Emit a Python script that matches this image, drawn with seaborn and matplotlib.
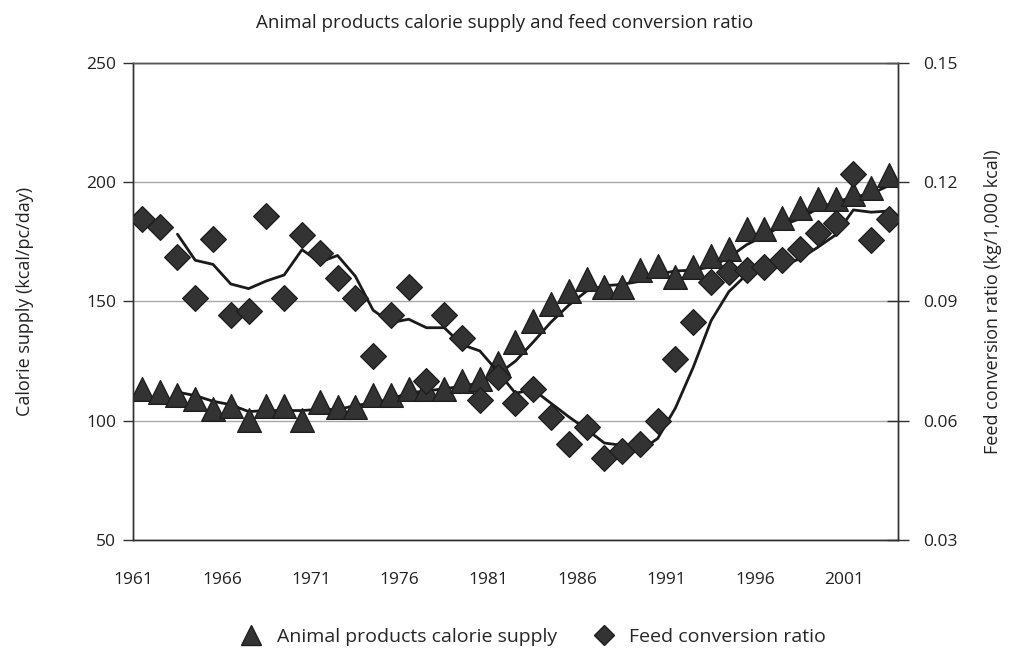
import numpy as np
import pandas as pd
import matplotlib
matplotlib.use('Agg')
import matplotlib.pyplot as plt
from matplotlib.lines import Line2D
import seaborn as sns

years = list(range(1961, 2004))

# animal products calorie supply, kcal/pc/day (left axis)
calorie_supply = [113.4, 112.0, 110.6, 109.0, 104.9, 106.2, 100.4, 106.2, 106.2, 100.4,
                  107.8, 105.7, 105.7, 110.9, 110.7, 113.3, 113.5, 113.4, 116.5, 117.7,
                  124.0, 133.2, 141.7, 149.1, 154.5, 159.4, 156.0, 156.0, 163.4, 164.8,
                  160.2, 164.4, 169.0, 172.0, 180.4, 180.4, 184.8, 189.0, 193.1, 193.1,
                  195.0, 197.5, 203.2]

# feed conversion ratio, kg/1,000 kcal (right axis)
feed_ratio = [0.1107, 0.1088, 0.1013, 0.0910, 0.1057, 0.0865, 0.0875, 0.1115, 0.0910, 0.1066,
              0.1021, 0.0960, 0.0910, 0.0764, 0.0866, 0.0936, 0.0700, 0.0866, 0.0808, 0.0653,
              0.0711, 0.0644, 0.0679, 0.0609, 0.0542, 0.0584, 0.0506, 0.0524, 0.0542, 0.0600,
              0.0755, 0.0849, 0.0950, 0.0975, 0.0978, 0.0986, 0.1005, 0.1032, 0.1072, 0.1098,
              0.1221, 0.1055, 0.1107]

tick_years = [1961, 1966, 1971, 1976, 1981, 1986, 1991, 1996, 2001]
series_names = ['Animal products calorie supply', 'Feed conversion ratio']

df = pd.DataFrame({'year': years, 'calorie': calorie_supply, 'fcr': feed_ratio})
# 3-period trailing moving averages (trendlines)
df['calorie_ma'] = df['calorie'].rolling(3).mean()
df['fcr_ma'] = df['fcr'].rolling(3).mean()

sns.set_style('white')
plt.rcParams['font.family'] = ['Open Sans', 'DejaVu Sans']

fill = '#333333'
edge = '#1e1e1e'
txt = '#222222'

fig = plt.figure(figsize=(10.09, 6.48), dpi=100)
ax = fig.add_axes([0.1318, 0.1667, 0.758, 0.7361])
ax2 = ax.twinx()

sns.lineplot(data=df, x='year', y='calorie_ma', ax=ax, color='#1a1a1a', lw=2.0, zorder=3)
sns.scatterplot(data=df, x='year', y='calorie', ax=ax, marker='^', s=290, color=fill,
                edgecolor=edge, linewidth=1.0, zorder=4, legend=False)
sns.lineplot(data=df, x='year', y='fcr_ma', ax=ax2, color='#1a1a1a', lw=2.0, zorder=3)
sns.scatterplot(data=df, x='year', y='fcr', ax=ax2, marker='D', s=170, color=fill,
                edgecolor=edge, linewidth=1.0, zorder=4, legend=False)

ax.set_xlim(1960.5, 2003.5)
ax.set_ylim(50, 250)
ax2.set_ylim(0.03, 0.15)
ax.set_xticks([y - 0.5 for y in tick_years])
ax.set_xticklabels([str(y) for y in tick_years])
ax.set_yticks([50, 100, 150, 200, 250])
ax2.set_yticks([0.03, 0.06, 0.09, 0.12, 0.15])
ax2.set_yticklabels(['0.03', '0.06', '0.09', '0.12', '0.15'])

ax.yaxis.grid(True, color='#a8a8a8', lw=1.0)
ax.set_axisbelow(True)

for a in (ax, ax2):
    for s in a.spines.values():
        s.set_color('#303030')
        s.set_linewidth(1.0)
ax2.spines['top'].set_color('#555555')

ax.tick_params(axis='x', direction='out', length=7, width=1, color='#303030',
               labelsize=12.5, pad=16, labelcolor=txt)
ax.tick_params(axis='y', direction='out', length=7, width=1, color='#303030',
               labelsize=12.5, pad=5, labelcolor=txt)
ax2.tick_params(axis='y', direction='inout', length=16, width=1, color='#303030',
                labelsize=12.5, pad=10, labelcolor=txt)

ax.set_xlabel('')
ax.set_ylabel('Calorie supply (kcal/pc/day)', fontsize=13, color=txt, labelpad=38)
ax2.set_ylabel('Feed conversion ratio (kg/1,000 kcal)', fontsize=13, color=txt, labelpad=19)

fig.suptitle('Animal products calorie supply and feed conversion ratio', fontsize=13.5,
             color=txt, y=0.978)

handles = [Line2D([], [], ls='none', marker='^', ms=14, mfc=fill, mec=edge),
           Line2D([], [], ls='none', marker='D', ms=10, mfc=fill, mec=edge)]
fig.legend(handles, series_names, loc='lower center', bbox_to_anchor=(0.528, -0.024), ncol=2,
           frameon=False, fontsize=14, columnspacing=1.8, handletextpad=0.7,
           handlelength=1.2)

fig.savefig('out.png', dpi=100)
